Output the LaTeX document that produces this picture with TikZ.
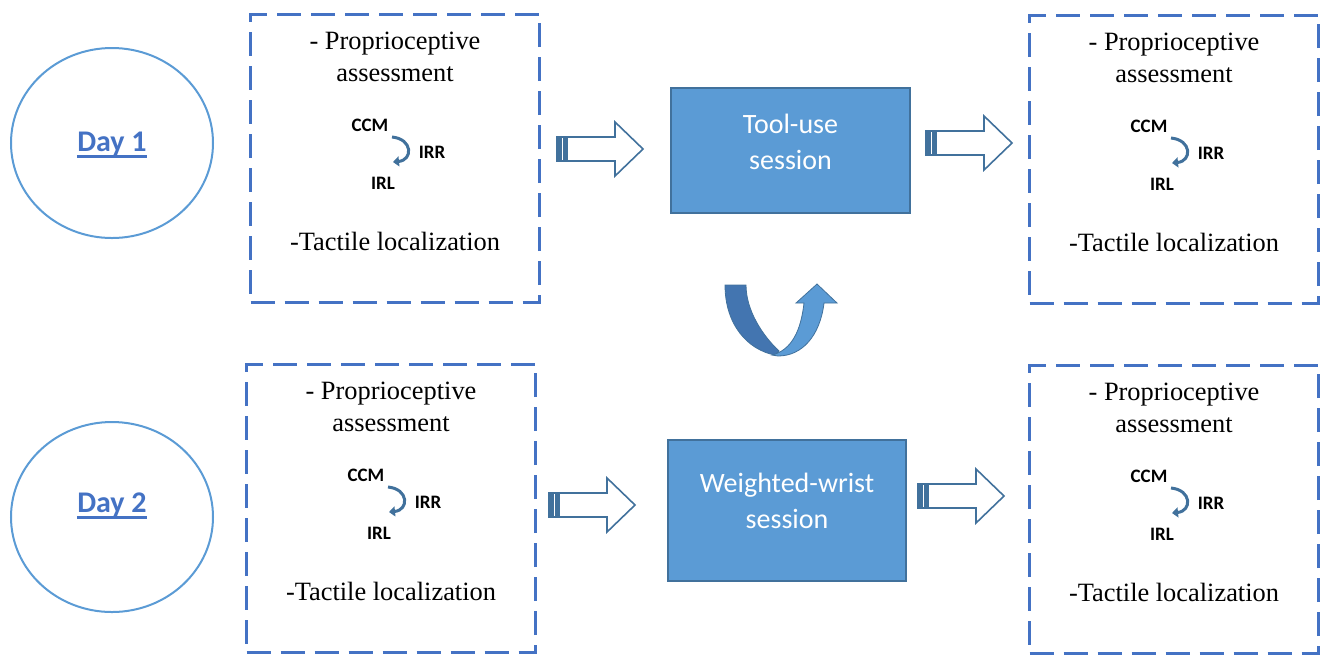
\documentclass[tikz,border=0pt]{standalone}
\usepackage{fontspec}
\setmainfont{Liberation Serif}
\newfontfamily\calibri{Carlito}
\usetikzlibrary{positioning, shapes.geometric, arrows.meta}

\definecolor{dashblue}{HTML}{4472C4}
\definecolor{lightblue}{HTML}{5B9BD5}
\definecolor{steelblue}{HTML}{41719C}
\definecolor{darkturn}{HTML}{4375B0}

\begin{document}
\begin{tikzpicture}[
  x=0.5pt, y=-0.5pt,
  day/.style={ellipse, draw=lightblue, line width=1pt, minimum width=101pt, minimum height=95pt},
  day label/.style={inner sep=0, text=dashblue, font=\calibri\bfseries\fontsize{15}{18}\selectfont},
  taskbox/.style={draw=dashblue, line width=1.5pt, dash pattern=on 12pt off 5pt, minimum width=144.5pt, minimum height=144pt},
  item/.style={align=center, inner sep=0, font=\fontsize{13.2}{16}\selectfont},
  joint/.style={inner sep=0, font=\calibri\bfseries\fontsize{9.5}{10}\selectfont},
  turn/.style={draw=steelblue, line width=1.5pt, -{Triangle[length=3pt, width=5pt]}},
  session/.style={fill=lightblue, draw=steelblue, line width=1pt},
  session label/.style={align=center, text=white, font=\calibri\fontsize{14}{18}\selectfont},
  blockarrow/.style={draw=steelblue, line width=0.8pt, fill=white, line join=miter}
]
\useasboundingbox (0,0) rectangle (1320,655);

% days
\node[day] (day1) at (112,143) {};
\node[day label] (day1-label) at (112,144) {Day 1};
\draw[dashblue, line width=1.5pt] ([yshift=-2.5pt]day1-label.base west) -- ([yshift=-2.5pt]day1-label.base east);

\node[day] (day2) at (112,517) {};
\node[day label] (day2-label) at (112,505) {Day 2};
\draw[dashblue, line width=1.5pt] ([yshift=-2.5pt]day2-label.base west) -- ([yshift=-2.5pt]day2-label.base east);

% assessment boxes, before and after each session
\foreach \name/\x/\y in {pre1/395/158, post1/1174/159, pre2/391/508, post2/1174/509} {
  \node[taskbox] (\name) at (\x,\y) {};
  \node[item] (\name-prop) at ([shift={(0,-101)}]\name.center) {- Proprioceptive\\assessment};
  \node[joint] (\name-ccm) at ([shift={(-25,-33)}]\name.center) {CCM};
  \node[joint] (\name-irr) at ([shift={(37,-6)}]\name.center) {IRR};
  \node[joint] (\name-irl) at ([shift={(-12,25)}]\name.center) {IRL};
  \coordinate (\name-from) at ([shift={(-3,-21)}]\name.center);
  \coordinate (\name-to) at ([shift={(-2,4)}]\name.center);
  \draw[turn] (\name-from) .. controls +(21,2) and +(20,-2) .. (\name-to);
  \node[item] (\name-tact) at ([shift={(0,83)}]\name.center) {-Tactile localization};
}

% sessions
\node[session, minimum width=119.5pt, minimum height=62.5pt] (tooluse) at (790.5,150.5) {};
\node[session label] (tooluse-text) at ([shift={(0,-9)}]tooluse.center) {Tool-use\\session};

\node[session, minimum width=119pt, minimum height=70.5pt] (wrist) at (787,510.5) {};
\node[session label] (wrist-text) at ([shift={(0,-10)}]wrist.center) {Weighted-wrist\\session};

% striped block arrows
\foreach \n/\ax/\ay in {arr1/557/149, arr2/926/143, arr3/549/505, arr4/918/496} {
  \coordinate (\n) at (\ax,\ay);
  \draw[blockarrow] (\n) ++(0,-12) -- ++(58,0) -- ++(0,-15) -- ++(28,27) -- ++(-28,27) -- ++(0,-15) -- ++(-58,0) -- cycle;
  \fill[steelblue] (\n) ++(0,-12) rectangle ++(4.5,24);
  \fill[steelblue] (\n) ++(6,-12) rectangle ++(4.5,24);
}

% u-turn between the days
\filldraw[fill=darkturn, draw=steelblue, line width=0.4pt]
  (725,285) .. controls (725,325) and (748,350) .. (775,355) -- (779,351)
  .. controls (762,335) and (746,310) .. (746,285) -- cycle;
\filldraw[fill=lightblue, draw=steelblue, line width=0.4pt]
  (772,355) .. controls (792,350) and (801,330) .. (804,303) -- (796,303) -- (817,284)
  -- (837,303) -- (824,303) .. controls (820,336) and (802,356) .. (778,356) -- cycle;

\end{tikzpicture}
\end{document}
